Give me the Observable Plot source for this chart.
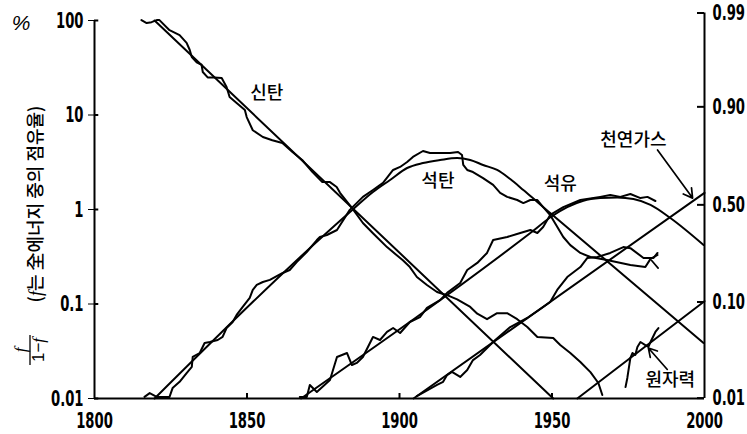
<!DOCTYPE html>
<html><head><meta charset="utf-8">
<script src="https://cdn.jsdelivr.net/npm/d3@7"></script>
<script src="https://cdn.jsdelivr.net/npm/@observablehq/plot@0.6"></script>
<style>
body{margin:0;background:#fff}
svg{display:block}
</style>
</head><body><div id="chart"></div>
<script>
// ---- tick labels ----
const xTicks = [1800, 1850, 1900, 1950, 2000];
const xInnerTicks = [1850, 1900, 1950];
const yTicks = [0.01, 0.1, 1, 10, 100];
const yTickLabels = ["0.01", "0.1", "1", "10", "100"];
const shareLabels = ["0.99", "0.90", "0.50", "0.10", "0.01"];
const shareAt = [120, 12.2, 1.12, 0.105, 0.0101]; // (left-scale units)

// ---- fitted curves (year, f/(1-f)) ----
const woodFit = [[1819.7, 100], [1950.4, 0.01]];
const coalFit = [[1819.7, 0.01], [1884.7, 1.0], [1891.3, 1.53], [1896.9, 2.05], [1902.5, 2.75], [1907.7, 3.1],
  [1913.3, 3.34], [1918.9, 3.51], [1923.2, 3.34], [1927.4, 2.96], [1932.0, 2.62], [1936.3, 2.1], [1940.6, 1.61],
  [1945.2, 1.2], [1949.8, 0.896], [1999.7, 0.0387]];
const oilFit = [[1867.7, 0.01], [1942.9, 0.564], [1950.1, 0.853], [1955.0, 1.06], [1960.3, 1.24], [1965.8, 1.32],
  [1971.4, 1.34], [1976.7, 1.29], [1982.3, 1.12], [1988.8, 0.813], [1999.7, 0.421]];
const gasFit = [[1904.6, 0.01], [2000, 1.5]];
const nuclearFit = [[1958.3, 0.01], [2000, 0.107]];

// ---- historical data ----
const woodData = [[1815.4, 101], [1817.1, 94], [1818.7, 96], [1820.4, 101], [1821.3, 101], [1824.6, 79], [1827.9, 70],
  [1830.2, 58], [1831.2, 49], [1831.9, 41], [1833.5, 36], [1835.1, 34], [1835.5, 28.5], [1837.1, 25], [1839.2, 25],
  [1841.7, 24.6], [1843.3, 19.8], [1844.3, 15.5], [1846.6, 13.4], [1849.3, 11.3], [1849.9, 9.5], [1851.9, 6.9],
  [1855.2, 5.85], [1858.3, 5.4], [1861.6, 5.05], [1864.9, 4.06], [1868.1, 3.34], [1871.4, 2.5], [1874.7, 1.95],
  [1877.2, 1.95], [1879.4, 1.73], [1880.5, 1.5], [1884.7, 1.01], [1888.0, 0.72], [1891.3, 0.56], [1895.9, 0.40],
  [1901.1, 0.29], [1903.4, 0.246], [1905.7, 0.193], [1909.0, 0.159], [1912.3, 0.134], [1915.6, 0.124],
  [1918.9, 0.112], [1923.2, 0.093], [1925.5, 0.079], [1928.7, 0.069], [1932.0, 0.08], [1935.3, 0.08],
  [1938.6, 0.069], [1941.9, 0.057], [1945.2, 0.0448], [1950.4, 0.0437], [1952.7, 0.0368], [1956.0, 0.0303],
  [1959.3, 0.0243], [1962.6, 0.019], [1965.2, 0.0146], [1966.5, 0.0109]];
const coalData = [[1816.4, 0.0104], [1818.1, 0.0114], [1820.4, 0.0104], [1824.6, 0.0104], [1825.6, 0.0129],
  [1827.9, 0.015], [1830.2, 0.0186], [1831.9, 0.0216], [1832.2, 0.0275], [1834.5, 0.0303], [1836.1, 0.0387],
  [1837.8, 0.0396], [1840.4, 0.0416], [1842.0, 0.0448], [1843.3, 0.0557], [1845.3, 0.0645], [1846.6, 0.0766],
  [1848.6, 0.093], [1850.9, 0.116], [1851.9, 0.141], [1853.2, 0.159], [1855.2, 0.171], [1857.5, 0.18],
  [1861.7, 0.213], [1864.0, 0.229], [1866.3, 0.278], [1869.6, 0.355], [1872.9, 0.475], [1873.9, 0.512],
  [1876.2, 0.537], [1879.5, 0.607], [1883.7, 0.99], [1888.0, 1.36], [1891.3, 1.61], [1894.6, 1.91],
  [1897.9, 2.62], [1900.2, 2.82], [1902.5, 3.18], [1904.4, 3.6], [1907.7, 4.16], [1910.0, 3.96], [1913.3, 3.96],
  [1916.6, 3.96], [1919.2, 4.06], [1920.5, 3.77], [1920.9, 2.96], [1922.2, 2.62], [1924.1, 2.49], [1927.4, 2.15],
  [1930.7, 1.82], [1933.0, 1.5], [1935.3, 1.36], [1938.6, 1.26], [1940.6, 1.17], [1942.9, 1.26], [1945.2, 1.26],
  [1947.1, 1.06], [1949.4, 0.875], [1953.7, 0.512], [1956.0, 0.42], [1959.3, 0.347], [1962.6, 0.314],
  [1968.0, 0.292], [1975.7, 0.259], [1980.6, 0.246], [1982.3, 0.3], [1984.6, 0.33]];
const coalDataFork = [[1982.6, 0.29], [1984.8, 0.24]];
const oilData = [[1867.3, 0.0104], [1869.6, 0.0104], [1870.6, 0.0139], [1872.9, 0.0117], [1877.2, 0.0157],
  [1879.5, 0.0275], [1882.8, 0.0303], [1884.4, 0.0226], [1886.0, 0.0238], [1888.0, 0.0275], [1891.3, 0.0448],
  [1893.6, 0.0416], [1895.9, 0.0506], [1897.9, 0.0557], [1900.2, 0.0493], [1903.4, 0.0645], [1906.7, 0.0728],
  [1909.0, 0.0908], [1913.3, 0.11], [1915.6, 0.131], [1919.9, 0.167], [1922.2, 0.229], [1925.5, 0.272],
  [1928.7, 0.347], [1930.7, 0.475], [1935.3, 0.512], [1939.6, 0.564], [1942.9, 0.607], [1945.2, 0.564],
  [1947.1, 0.653], [1949.4, 0.875], [1953.7, 1.06], [1959.3, 1.26], [1965.8, 1.36], [1969.1, 1.42],
  [1972.4, 1.36], [1975.7, 1.46], [1979.0, 1.32], [1981.3, 1.36], [1983.9, 1.23]];
const gasData = [[1905.7, 0.0106], [1912.3, 0.0139], [1914.3, 0.015], [1915.6, 0.0177], [1917.2, 0.0191],
  [1919.9, 0.0169], [1922.2, 0.02], [1924.1, 0.0255], [1926.4, 0.0289], [1929.7, 0.0368], [1931.4, 0.0416],
  [1936.3, 0.057], [1941.9, 0.0711], [1947.1, 0.093], [1949.4, 0.105], [1951.7, 0.141], [1955.0, 0.193],
  [1959.3, 0.246], [1961.6, 0.307], [1964.9, 0.314], [1969.1, 0.347], [1973.4, 0.40], [1975.7, 0.39],
  [1980.0, 0.307], [1983.3, 0.307], [1984.6, 0.347]];
const nuclearData = [[1974.1, 0.0132], [1974.7, 0.0165], [1975.7, 0.0269], [1976.4, 0.0303], [1977.3, 0.0289],
  [1978.0, 0.0351], [1979.0, 0.0396], [1980.6, 0.0368], [1981.6, 0.0351], [1982.3, 0.0396], [1983.9, 0.0506],
  [1984.9, 0.0557]];

// ---- annotations ----
const seriesLabels = [
  {text: "신탄", year: 1856.5, value: 17.1},
  {text: "석탄", year: 1912.6, value: 2.0},
  {text: "석유", year: 1952.7, value: 1.86},
  {text: "천연가스", year: 1976.7, value: 5.44},
  {text: "원자력", year: 1988.8, value: 0.0157}
];
const pointers = [
  {x1: 1984.6, y1: 4.26, x2: 1996.1, y2: 1.32},
  {x1: 1987.8, y1: 0.0203, x2: 1981.6, y2: 0.0342}
];

const numFont = "'DejaVu Sans', sans-serif";
const krFont = "'Noto Sans CJK KR', sans-serif";
const yLab = new Map(yTicks.map((d, i) => [d, yTickLabels[i]]));
const sLab = new Map(shareAt.map((d, i) => [d, shareLabels[i]]));
const lineOpts = {x: d => d[0], y: d => d[1], stroke: "black", strokeWidth: 2};

const chart = Plot.plot({
  width: 747, height: 434,
  marginLeft: 94, marginRight: 43, marginTop: 20, marginBottom: 36,
  x: {domain: [1800, 2000]},
  y: {type: "log", domain: [0.01, 100]},
  style: {fontFamily: numFont, fontSize: "22px", color: "black", background: "white", overflow: "visible"},
  marks: [
    Plot.axisX({ticks: xTicks, tickSize: 0, tickPadding: 14, tickFormat: d => String(d), label: null, fontSize: 22, fontWeight: "bold"}),
    Plot.axisY({anchor: "left", ticks: yTicks, tickSize: 6, tickPadding: 5, tickFormat: d => yLab.get(d), label: null, fontSize: 22, fontWeight: "bold"}),
    Plot.axisY({anchor: "right", ticks: shareAt, tickSize: 0, tickPadding: 8, tickFormat: d => sLab.get(d), label: null, fontSize: 22, fontWeight: "bold"}),
    Plot.ruleX([1800], {y1: 100, y2: 0.01, strokeWidth: 2}),
    Plot.ruleX([2000], {y1: shareAt[0], y2: 0.01, strokeWidth: 2}),
    Plot.ruleY([0.01], {x1: 1800, x2: 2000, strokeWidth: 2}),
    Plot.ruleY(yTicks, {x1: 1800, x2: 1801.4, strokeWidth: 2}),
    Plot.ruleY(shareAt, {x1: 1997.7, x2: 2000, strokeWidth: 2}),
    Plot.ruleX(xInnerTicks, {y1: 0.01, y2: 0.0113, strokeWidth: 2}),
    Plot.line(woodFit, lineOpts),
    Plot.line(coalFit, {...lineOpts, curve: "monotone-x"}),
    Plot.line(oilFit, {...lineOpts, curve: "monotone-x"}),
    Plot.line(gasFit, lineOpts),
    Plot.line(nuclearFit, lineOpts),
    Plot.line(woodData, lineOpts),
    Plot.line(coalData, lineOpts),
    Plot.line(coalDataFork, {...lineOpts, strokeWidth: 1.7}),
    Plot.line(oilData, lineOpts),
    Plot.line(gasData, lineOpts),
    Plot.line(nuclearData, lineOpts),
    Plot.arrow(pointers, {x1: "x1", y1: "y1", x2: "x2", y2: "y2", stroke: "black", strokeWidth: 1.7, headLength: 9}),
    Plot.text(seriesLabels, {x: "year", y: "value", text: "text", fontFamily: krFont, fontSize: 18, fontWeight: 500, fill: "black"})
  ]
});

// condense the numeric tick labels (the reference uses a condensed face)
chart.querySelectorAll('g[aria-label$="tick label"] text').forEach(el => {
  const tr = el.getAttribute("transform");
  if (tr) {
    el.setAttribute("transform", tr + " scale(0.6,1)");
  } else {
    const x = +el.getAttribute("x") || 0, y = +el.getAttribute("y") || 0;
    el.removeAttribute("x"); el.removeAttribute("y");
    el.setAttribute("transform", `translate(${x},${y}) scale(0.6,1)`);
  }
});

// axis title and unit (text labels, not data marks)
const svg = d3.select(chart);
svg.append("text").attr("x", 21).attr("y", 30).attr("text-anchor", "middle")
  .attr("font-family", "'Liberation Sans', sans-serif").attr("font-style", "italic").attr("font-size", 21).text("%");
const t = svg.append("text").attr("transform", "translate(36,204) rotate(-90)")
  .attr("text-anchor", "middle").attr("dy", "0.35em").attr("font-family", krFont).attr("font-weight", 500).attr("font-size", 18);
t.append("tspan").text("(");
t.append("tspan").attr("font-family", "'Liberation Serif', serif").attr("font-style", "italic").text("f");
t.append("tspan").text("는 全에너지 중의 점유율)");
const fr = svg.append("g").attr("transform", "translate(30,350) rotate(-90)")
  .attr("font-family", "'Liberation Sans', sans-serif").attr("font-size", 17).attr("text-anchor", "middle");
fr.append("text").attr("x", 0).attr("y", -4).attr("font-family", "'Liberation Serif', serif").attr("font-style", "italic").text("f");
fr.append("line").attr("x1", -15).attr("x2", 15).attr("y1", 0).attr("y2", 0).attr("stroke", "black").attr("stroke-width", 1.3);
const den = fr.append("text").attr("x", 0).attr("y", 14);
den.append("tspan").text("1−");
den.append("tspan").attr("font-family", "'Liberation Serif', serif").attr("font-style", "italic").text("f");

document.getElementById("chart").appendChild(chart);
</script>
</body></html>
